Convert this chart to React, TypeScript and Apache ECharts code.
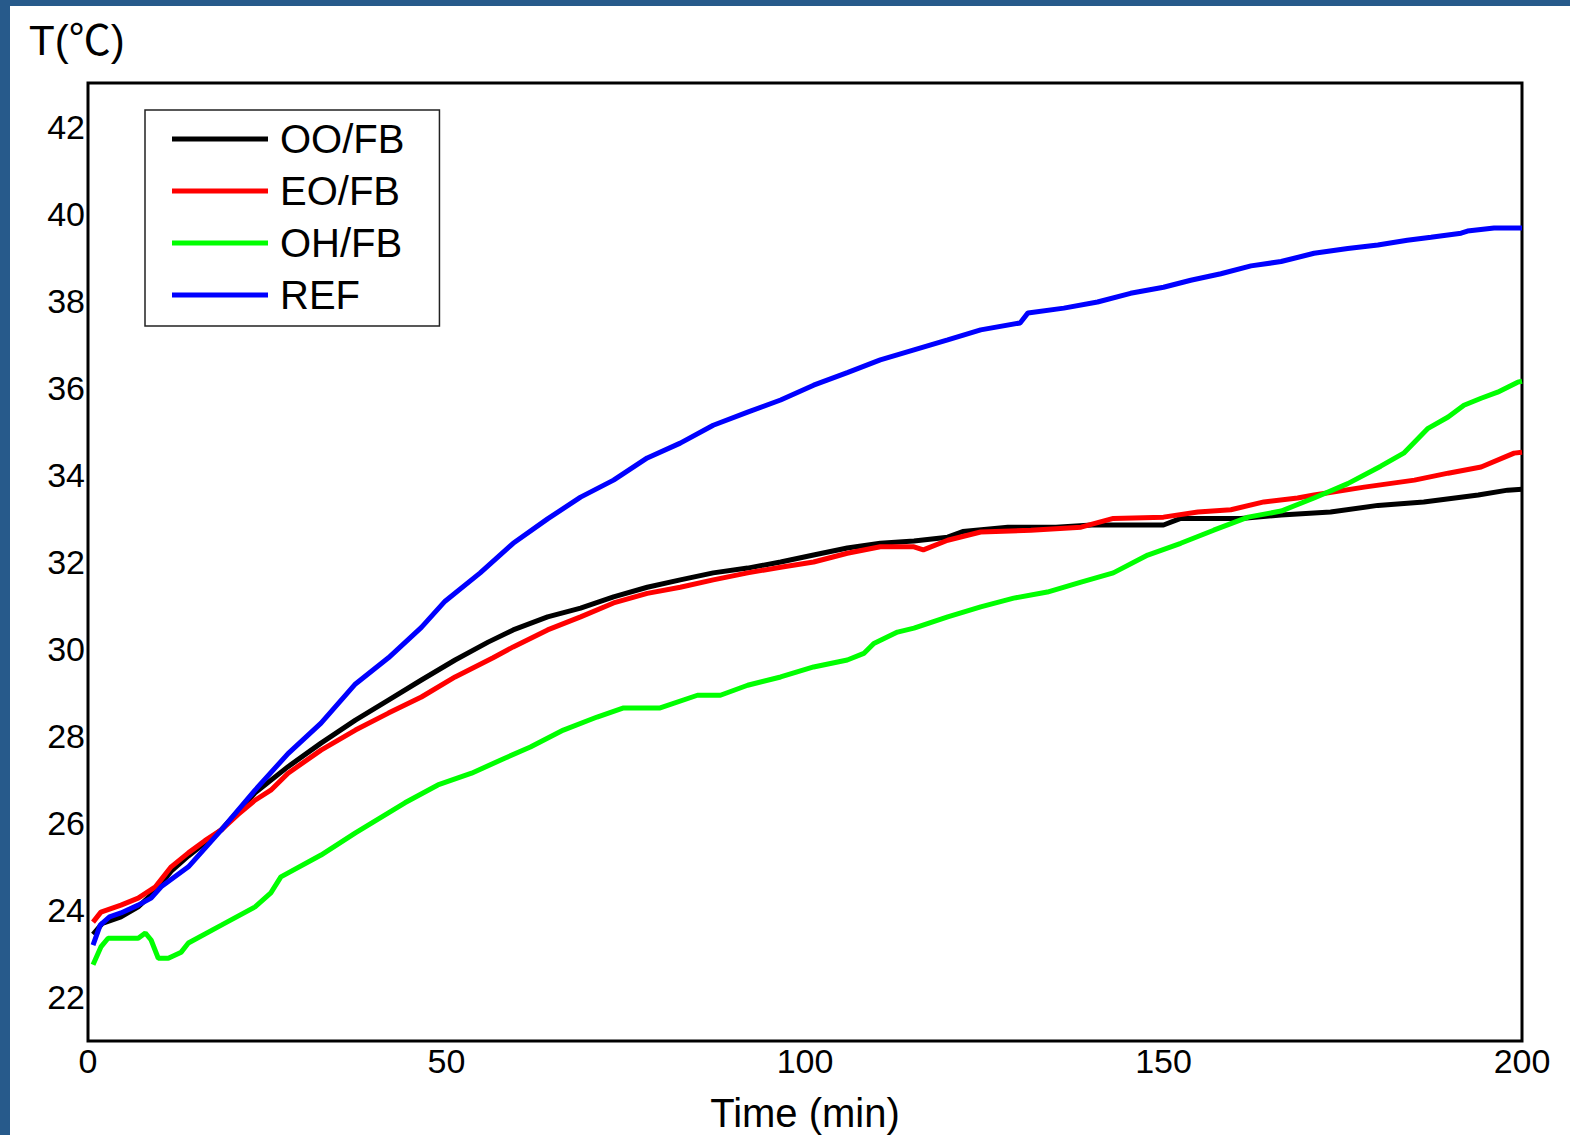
import React, { useEffect, useRef } from "react";
import * as echarts from "echarts";

const seriesNames = ["OO/FB", "EO/FB", "OH/FB", "REF"];
const seriesColors = ["#000000", "#ff0000", "#00ff00", "#0000ff"];

const timeOO = [0.7, 2, 4.6, 7, 9.4, 11.6, 14, 18.6, 23.3, 27.9, 32.5, 37.3, 41.9, 46.5, 51.2, 55.8, 59.3, 64.1, 68.7, 73.3, 78, 82.6, 87.2, 92, 96.6, 101.2, 105.9, 110.5, 115.2, 119.9, 122, 128.3, 135, 140, 150, 152.4, 160.8, 166.4, 173.3, 179.9, 186.3, 193.9, 198, 200];
const tempOO = [23.45, 23.7, 23.85, 24.08, 24.45, 24.9, 25.25, 25.85, 26.7, 27.3, 27.84, 28.37, 28.83, 29.29, 29.75, 30.16, 30.44, 30.74, 30.94, 31.2, 31.42, 31.59, 31.75, 31.86, 32.0, 32.16, 32.32, 32.43, 32.48, 32.57, 32.7, 32.8, 32.8, 32.85, 32.85, 33.0, 33.0, 33.08, 33.15, 33.3, 33.38, 33.54, 33.65, 33.67];

const timeEO = [0.7, 1.8, 4.6, 7, 9.4, 11.6, 14, 16.3, 18.6, 20.9, 23.3, 25.5, 27.9, 32.5, 37.3, 41.9, 46.5, 51.2, 56.5, 59.3, 64.1, 68.7, 73.3, 78, 82.6, 87.2, 92, 96.6, 101.2, 105.9, 110.5, 115.2, 116.5, 119.9, 124.5, 131.5, 138.5, 143, 150, 154.8, 159.4, 164, 168.7, 171, 178, 185, 189.7, 194.3, 198.9, 200];
const tempEO = [23.73, 23.96, 24.12, 24.28, 24.54, 25.0, 25.32, 25.6, 25.85, 26.2, 26.53, 26.76, 27.15, 27.68, 28.14, 28.53, 28.9, 29.36, 29.8, 30.05, 30.44, 30.74, 31.06, 31.28, 31.42, 31.59, 31.75, 31.88, 32.0, 32.2, 32.35, 32.35, 32.28, 32.5, 32.69, 32.73, 32.8, 33.0, 33.03, 33.15, 33.2, 33.38, 33.47, 33.54, 33.72, 33.88, 34.04, 34.18, 34.5, 34.52];

const timeOH = [0.7, 1.8, 2.8, 7, 8, 8.8, 9.8, 11.2, 13, 14, 18.6, 23.3, 25.5, 26.9, 32.5, 37.3, 41.9, 44.2, 48.8, 53.5, 58.2, 61.7, 66.3, 71, 74.7, 79.8, 85, 88.2, 92, 96.6, 101.2, 105.9, 108.2, 109.6, 112.9, 115.2, 119.9, 124.5, 129.1, 133.8, 138.5, 143, 147.8, 152.4, 157, 161.8, 166.4, 171, 175.7, 180.3, 183.5, 186.9, 189.7, 191.9, 194.3, 196.6, 199.4, 200];
const tempOH = [22.75, 23.16, 23.36, 23.36, 23.48, 23.32, 22.9, 22.9, 23.04, 23.25, 23.66, 24.08, 24.4, 24.77, 25.27, 25.78, 26.24, 26.47, 26.88, 27.15, 27.5, 27.75, 28.14, 28.44, 28.65, 28.65, 28.94, 28.94, 29.17, 29.36, 29.59, 29.75, 29.9, 30.13, 30.39, 30.48, 30.74, 30.97, 31.17, 31.31, 31.54, 31.75, 32.16, 32.43, 32.73, 33.03, 33.17, 33.47, 33.8, 34.2, 34.5, 35.07, 35.33, 35.6, 35.76, 35.9, 36.13, 36.15];

const timeREF = [0.7, 1.7, 3, 4.6, 7, 8.8, 10.2, 14, 18.6, 23.3, 27.9, 32.5, 37.3, 41.9, 46.5, 49.8, 54.7, 59.3, 64.1, 68.7, 73.3, 78, 82.6, 87.2, 92, 96.6, 101.2, 105.9, 110.5, 115.2, 119.9, 124.5, 130, 131.1, 136.1, 140.8, 145.4, 150, 153.8, 158, 162.2, 166.4, 171, 175.7, 179.9, 184, 187.3, 191.5, 192.4, 196.1, 200];
const tempREF = [23.2, 23.66, 23.85, 23.94, 24.12, 24.28, 24.54, 25.0, 25.85, 26.76, 27.6, 28.3, 29.2, 29.8, 30.5, 31.1, 31.75, 32.43, 32.99, 33.49, 33.88, 34.39, 34.73, 35.14, 35.44, 35.72, 36.06, 36.35, 36.64, 36.87, 37.1, 37.33, 37.49, 37.72, 37.83, 37.97, 38.17, 38.31, 38.47, 38.62, 38.8, 38.9, 39.09, 39.2, 39.28, 39.39, 39.46, 39.55, 39.6, 39.67, 39.67];

const xTicks = [0, 50, 100, 150, 200];
const yTickLabels = [22, 24, 26, 28, 30, 32, 34, 36, 38, 40, 42];

const FONT = "'Liberation Sans', Arial, 'Noto Sans CJK SC', sans-serif";

function zip(xs: number[], ys: number[]) {
  return xs.map((x, i) => [x, ys[i]]);
}

export default function App() {
  const ref = useRef<HTMLDivElement>(null);
  useEffect(() => {
    if (!ref.current) return;
    const chart = echarts.init(ref.current, null, { renderer: "svg" });
    const allData = [
      zip(timeOO, tempOO),
      zip(timeEO, tempEO),
      zip(timeOH, tempOH),
      zip(timeREF, tempREF),
    ];
    chart.setOption({
      animation: false,
      backgroundColor: "#ffffff",
      title: {
        text: "T(℃)",
        left: 24,
        top: 14,
        textStyle: { fontFamily: FONT, fontSize: 42, fontWeight: "normal", color: "#000" },
      },
      graphic: [
        { type: "rect", left: 0, top: 0, shape: { width: 1570, height: 6 }, style: { fill: "#275a8b" }, z: 100 },
        { type: "rect", left: 0, top: 0, shape: { width: 10, height: 1135 }, style: { fill: "#275a8b" }, z: 100 },
      ],
      legend: {
        orient: "vertical",
        left: 145,
        top: 110,
        data: seriesNames,
        icon: "rect",
        itemWidth: 96,
        itemHeight: 5,
        itemGap: 12,
        padding: [9, 35, 11, 27],
        borderColor: "#222",
        borderWidth: 1.5,
        backgroundColor: "#fff",
        textStyle: { fontFamily: FONT, fontSize: 40, color: "#000", padding: [0, 0, 0, 7] },
      },
      grid: {
        left: 88,
        top: 83,
        right: 48,
        bottom: 94,
        containLabel: false,
        outerBoundsMode: "none",
        show: true,
        borderColor: "#000",
        borderWidth: 3,
        backgroundColor: "#fff",
      },
      xAxis: {
        type: "value",
        min: xTicks[0],
        max: xTicks[xTicks.length - 1],
        interval: 50,
        name: "Time (min)",
        nameLocation: "middle",
        nameGap: 52,
        nameTextStyle: { fontFamily: FONT, fontSize: 40, color: "#000" },
        axisLine: { show: false },
        axisTick: { show: false },
        splitLine: { show: false },
        axisLabel: { fontFamily: FONT, fontSize: 34, color: "#000", margin: 3 },
      },
      yAxis: {
        type: "value",
        min: 21,
        max: 43,
        interval: 1,
        axisLine: { show: false },
        axisTick: { show: false },
        splitLine: { show: false },
        axisLabel: {
          fontFamily: FONT,
          fontSize: 34,
          color: "#000",
          margin: 3,
          formatter: (v: number) => (yTickLabels.includes(v) ? String(v) : ""),
        },
      },
      series: seriesNames.map((name, i) => ({
        name,
        type: "line",
        data: allData[i],
        symbol: "none",
        color: seriesColors[i],
        lineStyle: { color: seriesColors[i], width: 5 },
      })),
    });
    return () => chart.dispose();
  }, []);
  return (
    <div
      ref={ref}
      style={{ position: "absolute", left: 0, top: 0, width: 1570, height: 1135 }}
    />
  );
}
